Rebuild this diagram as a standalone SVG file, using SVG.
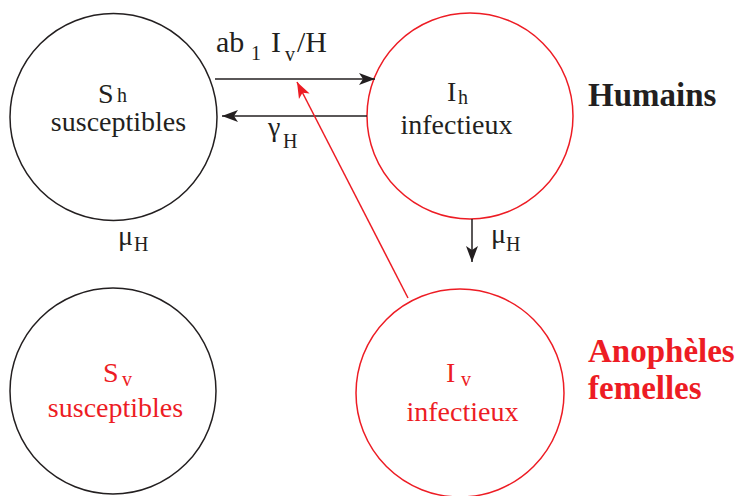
<svg xmlns="http://www.w3.org/2000/svg" width="739" height="496" viewBox="0 0 739 496">
<style>
.blk{fill:none;stroke:#231f20;stroke-width:1.5}
.red{fill:none;stroke:#ed1c24;stroke-width:1.5}
text{font-family:"Liberation Serif","Times New Roman",serif;}
.tb{fill:#231f20}
.tr{fill:#ed1c24}
.lab{font-size:28px}
.top{font-size:30px}
.sub{font-size:20px}
.big{font-size:33px;font-weight:bold}
</style>
<defs>
<marker id="ahb" markerUnits="userSpaceOnUse" markerWidth="20" markerHeight="14" refX="16" refY="6" orient="auto" viewBox="0 0 20 12">
<path d="M0,0 L16,6 L0,12 L4,6 Z" fill="#231f20"/>
</marker>
<marker id="ahr" markerUnits="userSpaceOnUse" markerWidth="20" markerHeight="14" refX="16" refY="6" orient="auto" viewBox="0 0 20 12">
<path d="M0,0 L16,6 L0,12 L4,6 Z" fill="#ed1c24"/>
</marker>
</defs>
<g id="Sh">
<circle class="blk" cx="113.5" cy="117" r="103.5"/>
<text class="tb lab"><tspan x="98" y="103">S</tspan><tspan class="sub" x="117" y="102">h</tspan></text>
<text class="tb lab" x="118.5" y="131" text-anchor="middle">susceptibles</text>
</g>
<g id="Ih">
<circle class="red" cx="470" cy="116" r="103"/>
<text class="tb lab"><tspan x="447" y="101">I</tspan><tspan class="sub" x="458" y="104">h</tspan></text>
<text class="tb lab" x="456.5" y="134" text-anchor="middle">infectieux</text>
</g>
<g id="Sv">
<circle class="blk" cx="113" cy="391" r="103"/>
<text class="tr lab"><tspan x="103" y="382">S</tspan><tspan class="sub" x="122" y="386">v</tspan></text>
<text class="tr lab" x="115.5" y="417" text-anchor="middle">susceptibles</text>
</g>
<g id="Iv">
<circle class="red" cx="460" cy="393" r="104"/>
<text class="tr lab"><tspan x="446" y="382">I</tspan><tspan class="sub" x="461" y="386">v</tspan></text>
<text class="tr lab" x="462.5" y="421" text-anchor="middle">infectieux</text>
</g>
<g id="labels">
<text class="tb big" x="588" y="106">Humains</text>
<text class="tr big" x="588" y="362">Anophèles</text>
<text class="tr big" x="588" y="399">femelles</text>
</g>
<g id="connectors">
<line class="blk" x1="215" y1="79" x2="375" y2="79" marker-end="url(#ahb)"/>
<line class="blk" x1="367" y1="116" x2="222" y2="116" marker-end="url(#ahb)"/>
<line class="blk" x1="472" y1="219" x2="472" y2="262" marker-end="url(#ahb)"/>
<line class="red" x1="408" y1="298" x2="297" y2="82" marker-end="url(#ahr)"/>
<text class="tb top"><tspan x="216" y="52">ab</tspan><tspan class="sub" x="251" y="60">1</tspan><tspan x="271" y="52">I</tspan><tspan class="sub" x="285" y="61">v</tspan><tspan x="297" y="52">/H</tspan></text>
<text class="tb lab"><tspan x="268" y="136">γ</tspan><tspan class="sub" x="283" y="148">H</tspan></text>
<text class="tb lab"><tspan x="118" y="245">μ</tspan><tspan class="sub" x="134" y="251">H</tspan></text>
<text class="tb lab"><tspan x="491" y="243">μ</tspan><tspan class="sub" x="506" y="251">H</tspan></text>
</g>
</svg>
